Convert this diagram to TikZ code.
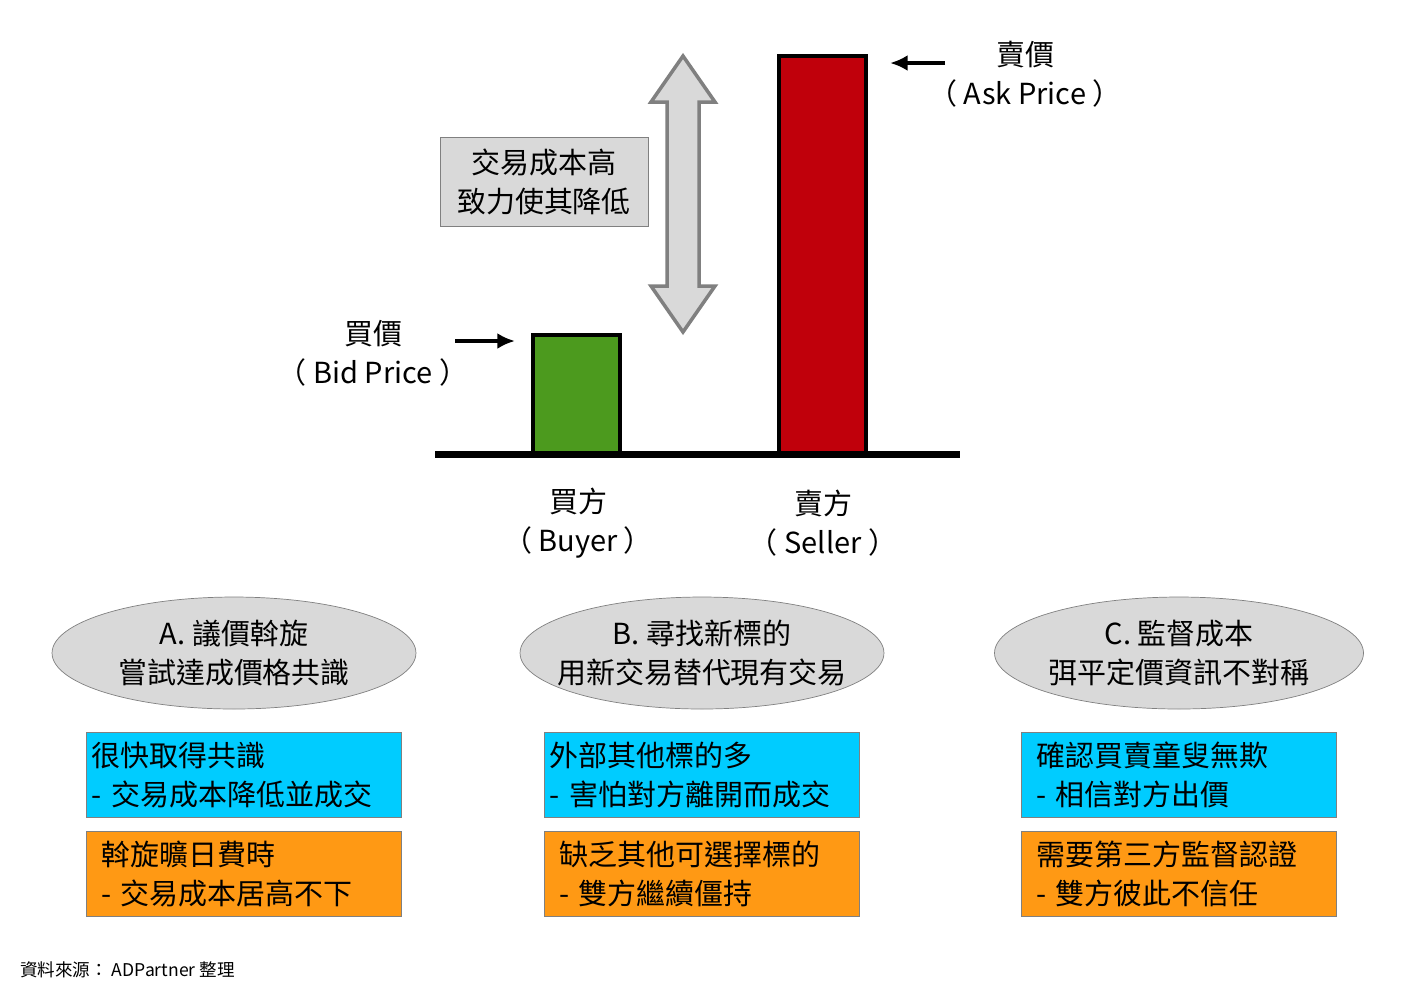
\documentclass[tikz,border=0pt]{standalone}
\usepackage{fontspec}
\setmainfont{Noto Sans CJK TC}
\usetikzlibrary{shapes.geometric,arrows.meta}
\definecolor{barred}{HTML}{C0000B}
\definecolor{bargreen}{HTML}{4C9A1E}
\definecolor{boxgray}{HTML}{D9D9D9}
\definecolor{boxblue}{HTML}{00CCFF}
\definecolor{boxorange}{HTML}{FF9914}
\tikzset{
    txt/.style={font=\fontsize{16.5}{22}\selectfont, align=center},
    oval/.style={ellipse, draw=gray, fill=boxgray, minimum width=7.28cm, minimum height=2.24cm, inner sep=0pt, txt},
    note/.style={draw=gray, text width=6.1cm, minimum height=1.7cm, align=left, inner sep=3pt, font=\fontsize{16.5}{22}\selectfont},
    pointer/.style={line width=2.5pt, -{Latex[length=10pt,width=9pt]}}
}
\begin{document}
\begin{tikzpicture}[x=0.02cm, y=-0.02cm]
    \useasboundingbox[fill=white] (0,0) rectangle (1403,992);
    % bars
    \draw[line width=2pt, fill=bargreen] (533,454) rectangle (620,335);
    \draw[line width=2pt, fill=barred] (779,454) rectangle (866,56);
    \draw[line width=4pt] (435,454) -- (960,454); % ground
    % double arrow
    \draw[draw=gray, line width=2pt, fill=boxgray, line join=miter] (683,56) -- (715,102) -- (699,102) -- (699,286) -- (715,286) -- (683,332) -- (651,286) -- (667,286) -- (667,102) -- (651,102) -- cycle;
    \node[draw=gray, fill=boxgray, txt, minimum width=4.16cm, minimum height=1.78cm, inner sep=2pt] (cost) at (544,182) {交易成本高\\致力使其降低};
    % prices
    \coordinate (askfrom) at (945,63);
    \coordinate (askto) at (890,63);
    \draw[pointer] (askfrom) -- (askto);
    \node[txt] (ask) at (1025,74) {賣價\\（ Ask Price ）};
    \coordinate (bidfrom) at (455,341);
    \coordinate (bidto) at (515,341);
    \draw[pointer] (bidfrom) -- (bidto);
    \node[txt] (bid) at (373,353) {買價\\（ Bid Price ）};
    \node[txt] (buyer) at (578,523) {買方\\（ Buyer ）};
    \node[txt] (seller) at (823,523) {賣方\\（ Seller ）};
    % strategies
    \node[oval] (A) at (234,653) {A.  議價斡旋\\嘗試達成價格共識};
    \node[oval, inner xsep=-1.1cm] (B) at (702,653) {B.  尋找新標的\\用新交易替代現有交易};
    \node[oval] (C) at (1179,653) {C.  監督成本\\弭平定價資訊不對稱};
    \node[note, fill=boxblue] (A1) at (244,775) {很快取得共識\\ -  交易成本降低並成交};
    \node[note, fill=boxorange] (A2) at (244,874) {\ 斡旋曠日費時\\ \ -  交易成本居高不下};
    \node[note, fill=boxblue] (B1) at (702,775) {外部其他標的多\\ -  害怕對方離開而成交};
    \node[note, fill=boxorange] (B2) at (702,874) {\ 缺乏其他可選擇標的\\ \ -  雙方繼續僵持};
    \node[note, fill=boxblue] (C1) at (1179,775) {\ 確認買賣童叟無欺\\ \ -  相信對方出價};
    \node[note, fill=boxorange] (C2) at (1179,874) {\ 需要第三方監督認證\\ \ -  雙方彼此不信任};
    \node[anchor=west, font=\fontsize{10}{12}\selectfont] (src) at (14,970) {資料來源： ADPartner 整理};
\end{tikzpicture}
\end{document}
